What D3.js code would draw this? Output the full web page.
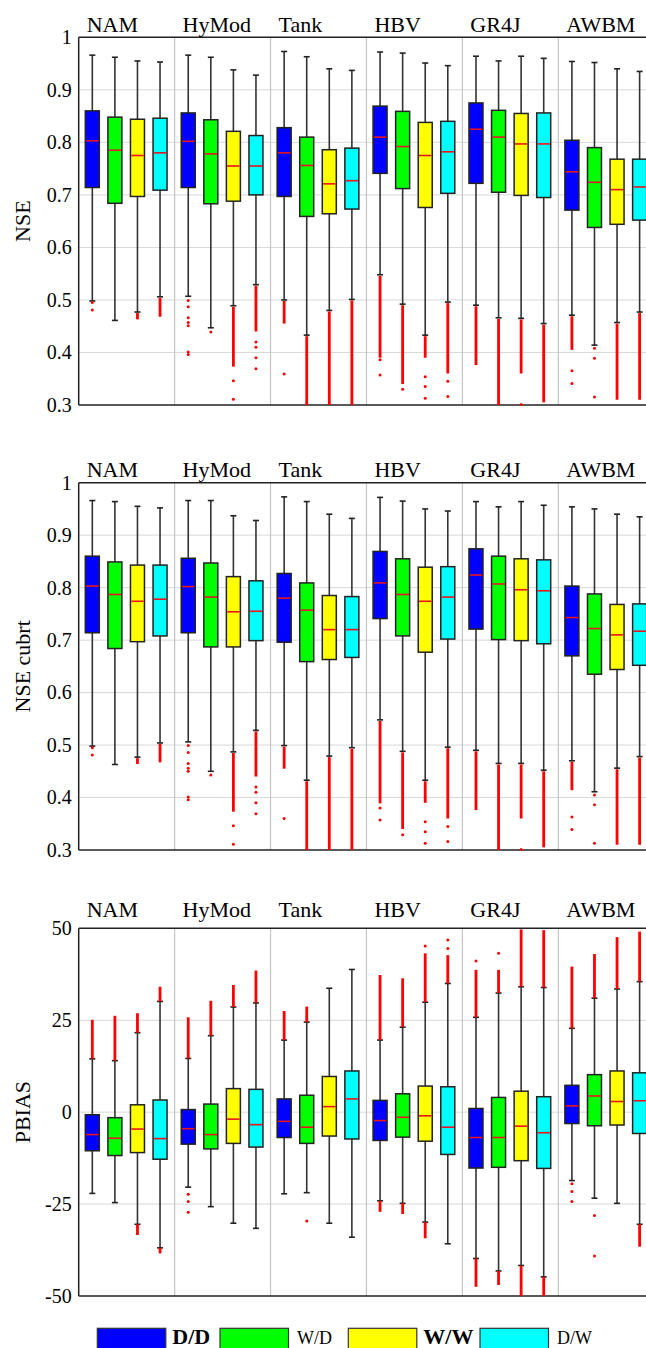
<!DOCTYPE html>
<html>
<head>
<meta charset="utf-8">
<script src="https://cdn.jsdelivr.net/npm/d3@7"></script>
<style>
  body { margin: 0; background: #fff; }
  svg { display: block; font-family: "Liberation Serif", "Times New Roman", serif; }
</style>
</head>
<body>
<svg id="chart" width="646" height="1348"></svg>
<script>
// categories
const groups = ["NAM", "HyMod", "Tank", "HBV", "GR4J", "AWBM"];
const series = ["D/D", "W/D", "W/W", "D/W"];

// NSE -- rows = model, columns = D/D, W/D, W/W, D/W
const nseHi  = [[0.966,0.962,0.955,0.953],[0.966,0.962,0.938,0.928],[0.973,0.963,0.940,0.937],[0.972,0.970,0.951,0.946],[0.964,0.955,0.964,0.960],[0.954,0.952,0.940,0.935]];
const nseQ3  = [[0.860,0.848,0.844,0.846],[0.856,0.843,0.821,0.813],[0.828,0.810,0.786,0.789],[0.869,0.859,0.838,0.840],[0.875,0.861,0.855,0.856],[0.804,0.790,0.768,0.768]];
const nseMed = [[0.803,0.785,0.775,0.780],[0.802,0.778,0.755,0.755],[0.780,0.756,0.721,0.727],[0.810,0.792,0.775,0.782],[0.825,0.810,0.797,0.797],[0.744,0.724,0.710,0.715]];
const nseQ1  = [[0.714,0.684,0.697,0.709],[0.714,0.683,0.688,0.700],[0.697,0.659,0.664,0.673],[0.741,0.712,0.676,0.703],[0.722,0.705,0.699,0.695],[0.671,0.638,0.644,0.652]];
const nseLo  = [[0.498,0.461,0.477,0.506],[0.507,0.447,0.489,0.529],[0.500,0.433,0.480,0.501],[0.548,0.492,0.433,0.496],[0.490,0.466,0.465,0.455],[0.471,0.414,0.457,0.477]];
// dense runs of outliers [model, run, from, to]
const nseRuns = [
  ["NAM","W/W",0.475,0.463],["NAM","D/W",0.504,0.468],
  ["HyMod","W/W",0.487,0.373],["HyMod","D/W",0.527,0.440],
  ["Tank","D/D",0.498,0.455],["Tank","W/D",0.431,0.300],["Tank","W/W",0.478,0.300],["Tank","D/W",0.499,0.300],
  ["HBV","D/D",0.546,0.390],["HBV","W/D",0.490,0.340],["HBV","W/W",0.431,0.390],["HBV","D/W",0.494,0.360],
  ["GR4J","D/D",0.488,0.376],["GR4J","W/D",0.464,0.300],["GR4J","W/W",0.463,0.360],["GR4J","D/W",0.453,0.305],
  ["AWBM","D/D",0.469,0.405],["AWBM","W/W",0.455,0.310],["AWBM","D/W",0.475,0.310]
];
// single outliers
const nsePts = [
  ["NAM","D/D",[0.495,0.481]],
  ["HyMod","D/D",[0.499,0.487,0.466,0.457,0.451,0.401,0.396]],["HyMod","W/D",[0.439]],
  ["HyMod","W/W",[0.346,0.311]],["HyMod","D/W",[0.420,0.410,0.390,0.369]],
  ["Tank","D/D",[0.359]],
  ["HBV","D/D",[0.386,0.357]],["HBV","W/D",[0.330]],["HBV","W/W",[0.354,0.335,0.313]],["HBV","D/W",[0.345,0.316]],
  ["GR4J","W/W",[0.301]],
  ["AWBM","D/D",[0.365,0.341]],["AWBM","W/D",[0.408,0.389,0.315]]
];

// NSE cubrt
const cubHi  = [[0.966,0.964,0.955,0.952],[0.966,0.966,0.937,0.928],[0.973,0.964,0.940,0.932],[0.972,0.965,0.950,0.946],[0.964,0.954,0.964,0.957],[0.954,0.950,0.940,0.935]];
const cubQ3  = [[0.860,0.849,0.843,0.843],[0.856,0.847,0.821,0.813],[0.827,0.809,0.785,0.783],[0.869,0.855,0.839,0.840],[0.874,0.860,0.855,0.853],[0.803,0.788,0.768,0.769]];
const cubMed = [[0.803,0.787,0.774,0.778],[0.802,0.782,0.754,0.755],[0.780,0.757,0.720,0.720],[0.809,0.787,0.774,0.782],[0.824,0.807,0.796,0.794],[0.743,0.722,0.710,0.717]];
const cubQ1  = [[0.714,0.684,0.697,0.708],[0.714,0.687,0.687,0.699],[0.696,0.659,0.663,0.667],[0.741,0.708,0.677,0.702],[0.721,0.701,0.699,0.693],[0.670,0.635,0.644,0.652]];
const cubLo  = [[0.498,0.463,0.477,0.504],[0.506,0.450,0.487,0.528],[0.499,0.433,0.479,0.495],[0.548,0.488,0.433,0.496],[0.490,0.465,0.465,0.452],[0.470,0.411,0.456,0.478]];
const cubRuns = [
  ["NAM","W/W",0.475,0.464],["NAM","D/W",0.502,0.467],
  ["HyMod","W/W",0.485,0.373],["HyMod","D/W",0.526,0.440],
  ["Tank","D/D",0.497,0.455],["Tank","W/D",0.431,0.300],["Tank","W/W",0.477,0.300],["Tank","D/W",0.493,0.300],
  ["HBV","D/D",0.546,0.389],["HBV","W/D",0.486,0.340],["HBV","W/W",0.431,0.390],["HBV","D/W",0.494,0.360],
  ["GR4J","D/D",0.488,0.376],["GR4J","W/D",0.463,0.300],["GR4J","W/W",0.463,0.360],["GR4J","D/W",0.450,0.305],
  ["AWBM","D/D",0.468,0.414],["AWBM","W/W",0.454,0.310],["AWBM","D/W",0.476,0.310]
];
const cubPts = [
  ["NAM","D/D",[0.495,0.481]],
  ["HyMod","D/D",[0.499,0.486,0.465,0.456,0.450,0.401,0.396]],["HyMod","W/D",[0.443]],
  ["HyMod","W/W",[0.346,0.311]],["HyMod","D/W",[0.420,0.410,0.390,0.369]],
  ["Tank","D/D",[0.360]],
  ["HBV","D/D",[0.380,0.357]],["HBV","W/D",[0.329]],["HBV","W/W",[0.354,0.335,0.313]],["HBV","D/W",[0.345,0.316]],
  ["GR4J","W/W",[0.301]],
  ["AWBM","D/D",[0.363,0.339]],["AWBM","W/D",[0.405,0.386,0.313]]
];

// PBIAS
const pbHi  = [[14.5,14.0,21.6,30.1],[14.6,20.8,28.6,29.7],[19.6,24.5,33.7,38.8],[19.6,23.1,29.9,35.0],[25.8,32.4,34.1,33.9],[22.8,31.0,33.5,35.5]];
const pbQ3  = [[-0.7,-1.5,2.0,3.3],[0.7,2.2,6.4,6.2],[3.6,4.6,9.7,11.2],[3.2,5.0,7.1,6.9],[1.0,4.0,5.7,4.2],[7.3,10.2,11.2,10.7]];
const pbMed = [[-6.1,-7.1,-4.6,-7.2],[-4.5,-6.1,-1.9,-3.4],[-2.5,-4.1,1.5,3.6],[-2.3,-1.4,-1.0,-4.1],[-6.9,-6.9,-3.8,-5.6],[1.7,4.4,2.9,3.1]];
const pbQ1  = [[-10.5,-11.8,-11.0,-12.8],[-8.7,-10.0,-8.5,-9.5],[-6.9,-8.5,-6.5,-7.3],[-7.7,-6.8,-7.9,-11.5],[-15.2,-15.0,-13.2,-15.3],[-3.1,-3.7,-3.5,-5.8]];
const pbLo  = [[-22.1,-24.6,-30.5,-36.9],[-20.4,-25.7,-30.2,-31.6],[-22.2,-21.9,-30.2,-34.0],[-24.1,-24.8,-29.9,-35.8],[-39.8,-43.2,-41.7,-44.8],[-18.6,-23.4,-24.8,-30.5]];
const pbRuns = [
  ["NAM","D/D",14.5,25.1],["NAM","W/D",14.0,26.2],["NAM","W/W",21.6,26.9],["NAM","W/W",-30.5,-33.4],
  ["NAM","D/W",30.1,34.1],["NAM","D/W",-36.9,-38.4],
  ["HyMod","D/D",14.6,25.8],["HyMod","W/D",20.8,30.3],["HyMod","W/W",28.6,34.6],["HyMod","D/W",29.7,38.5],
  ["Tank","D/D",19.6,27.5],["Tank","W/D",24.5,28.7],
  ["HBV","D/D",19.6,37.3],["HBV","D/D",-24.1,-27.1],["HBV","W/D",23.1,36.4],["HBV","W/D",-24.8,-27.7],
  ["HBV","W/W",29.9,43.2],["HBV","W/W",-29.9,-34.3],["HBV","D/W",35.0,42.7],
  ["GR4J","D/D",25.8,38.7],["GR4J","D/D",-39.8,-47.5],["GR4J","W/D",32.4,38.7],["GR4J","W/D",-43.2,-47.0],
  ["GR4J","W/W",34.1,49.7],["GR4J","W/W",-41.7,-50],["GR4J","D/W",33.9,49.5],["GR4J","D/W",-44.8,-50],
  ["AWBM","D/D",22.8,39.6],["AWBM","W/D",31.0,43.0],["AWBM","W/W",33.5,47.6],["AWBM","D/W",35.5,49.1],["AWBM","D/W",-30.5,-36.6]
];
const pbPts = [
  ["HyMod","D/D",[-22.3,-24.3,-27.2]],
  ["Tank","W/D",[-29.6]],
  ["HBV","W/W",[45.2]],["HBV","D/W",[44.5,46.8]],
  ["GR4J","D/D",[41.1]],["GR4J","W/D",[43.2]],
  ["AWBM","D/D",[-19.5,-21.6,-24.3]],["AWBM","W/D",[-28.1,-39.1]]
];

// tick values
const nseTicks = [0.3, 0.4, 0.5, 0.6, 0.7, 0.8, 0.9, 1];
const pbTicks = [-50, -25, 0, 25, 50];

// ---------- drawing ----------
const svg = d3.select("#chart");
const FONT = "'Liberation Serif','Times New Roman',serif";

const panels = [
  { name: "NSE", ticks: nseTicks, top: 37.3, bottom: 405, title: 32,
    hi: nseHi, q3: nseQ3, med: nseMed, q1: nseQ1, lo: nseLo, runs: nseRuns, pts: nsePts },
  { name: "NSE cubrt", ticks: nseTicks, top: 482.7, bottom: 850, title: 477.3,
    hi: cubHi, q3: cubQ3, med: cubMed, q1: cubQ1, lo: cubLo, runs: cubRuns, pts: cubPts },
  { name: "PBIAS", ticks: pbTicks, top: 928.3, bottom: 1296, title: 917.3,
    hi: pbHi, q3: pbQ3, med: pbMed, q1: pbQ1, lo: pbLo, runs: pbRuns, pts: pbPts }
];

const x0 = d3.scaleBand().domain(groups).range([78.7, 654.2]);
const bw = x0.bandwidth();
const x1 = d3.scalePoint().domain(series).range([bw * 0.142, bw * 0.848]);
const color = d3.scaleOrdinal().domain(series).range(["#0000ff", "#00ff00", "#ffff00", "#00ffff"]);
const cx = (g, s) => x0(g) + x1(s);
const boxW = 14, capW = 6;
const [xl, xr] = x0.range();

panels.forEach(p => {
  const y = d3.scaleLinear().domain(d3.extent(p.ticks)).range([p.bottom, p.top]);
  const g = svg.append("g");

  // horizontal grid
  g.selectAll(".grid").data(p.ticks.slice(1, -1)).enter().append("line")
    .attr("x1", xl).attr("x2", xr)
    .attr("y1", d => y(d)).attr("y2", d => y(d))
    .attr("stroke", "#d8d8d8").attr("stroke-width", 1);

  // model separators
  g.selectAll(".sep").data(groups.slice(1)).enter().append("line")
    .attr("x1", d => x0(d)).attr("x2", d => x0(d))
    .attr("y1", p.top).attr("y2", p.bottom)
    .attr("stroke", "#c4c4c4").attr("stroke-width", 1.2);

  // frame
  g.append("line").attr("x1", xl).attr("x2", xr).attr("y1", p.top).attr("y2", p.top)
    .attr("stroke", "#222").attr("stroke-width", 1.5);
  g.append("line").attr("x1", xl).attr("x2", xr).attr("y1", p.bottom).attr("y2", p.bottom)
    .attr("stroke", "#222").attr("stroke-width", 1.5);
  g.append("line").attr("x1", xl).attr("x2", xl).attr("y1", p.top).attr("y2", p.bottom)
    .attr("stroke", "#222").attr("stroke-width", 1.5);

  // y axis labels
  g.append("g").attr("transform", `translate(${xl},0)`)
    .call(d3.axisLeft(y).tickValues(p.ticks).tickSize(0).tickPadding(7).tickFormat(d => String(d)))
    .call(a => a.select(".domain").remove())
    .attr("font-family", FONT).attr("font-size", 20)
    .selectAll("text").attr("fill", "#000");

  g.append("text")
    .attr("transform", `translate(30,${(p.top + p.bottom) / 2}) rotate(-90)`)
    .attr("text-anchor", "middle").attr("font-size", 22).attr("font-family", FONT)
    .text(p.name);

  // model titles
  g.selectAll(".title").data(groups).enter().append("text")
    .attr("x", d => x0(d) + 8).attr("y", p.title)
    .attr("font-size", 22).attr("font-family", FONT)
    .text(d => d);

  const stats = groups.flatMap((gn, gi) => series.map((s, si) => ({
    g: gn, s, hi: p.hi[gi][si], q3: p.q3[gi][si], med: p.med[gi][si], q1: p.q1[gi][si], lo: p.lo[gi][si]
  })));

  // whiskers
  const wk = g.selectAll(".wk").data(stats).enter().append("g");
  wk.append("line").attr("x1", d => cx(d.g, d.s)).attr("x2", d => cx(d.g, d.s))
    .attr("y1", d => y(d.hi)).attr("y2", d => y(d.lo))
    .attr("stroke", "#333").attr("stroke-width", 1.6);
  ["hi", "lo"].forEach(k => {
    wk.append("line").attr("x1", d => cx(d.g, d.s) - capW / 2).attr("x2", d => cx(d.g, d.s) + capW / 2)
      .attr("y1", d => y(d[k])).attr("y2", d => y(d[k]))
      .attr("stroke", "#222").attr("stroke-width", 1.6);
  });

  // outliers
  g.selectAll(".run").data(p.runs).enter().append("line")
    .attr("x1", d => cx(d[0], d[1])).attr("x2", d => cx(d[0], d[1]))
    .attr("y1", d => y(d[2])).attr("y2", d => y(d[3]))
    .attr("stroke", "#ff0000").attr("stroke-width", 2.8);
  const pts = p.pts.flatMap(d => d[2].map(v => ({ g: d[0], s: d[1], v })));
  g.selectAll(".pt").data(pts).enter().append("circle")
    .attr("cx", d => cx(d.g, d.s)).attr("cy", d => y(d.v)).attr("r", 1.5)
    .attr("fill", "#ff0000");

  // boxes
  g.selectAll(".box").data(stats).enter().append("rect")
    .attr("x", d => cx(d.g, d.s) - boxW / 2).attr("width", boxW)
    .attr("y", d => y(d.q3)).attr("height", d => y(d.q1) - y(d.q3))
    .attr("fill", d => color(d.s)).attr("stroke", "#222").attr("stroke-width", 1.5);

  g.selectAll(".med").data(stats).enter().append("line")
    .attr("x1", d => cx(d.g, d.s) - boxW / 2 + 0.8).attr("x2", d => cx(d.g, d.s) + boxW / 2 - 0.8)
    .attr("y1", d => y(d.med)).attr("y2", d => y(d.med))
    .attr("stroke", "#e8141e").attr("stroke-width", 1.6);
});

// legend (box left edges as laid out in the original figure)
const legLeft = [97.3, 220, 348.3, 480];
const lg = svg.selectAll(".leg").data(series).enter().append("g")
  .attr("transform", (d, i) => `translate(${legLeft[i]},1328.3)`);
lg.append("rect").attr("width", 68.5).attr("height", 22)
  .attr("fill", d => color(d)).attr("stroke", "#333").attr("stroke-width", 1.2);
lg.append("text").attr("x", (d, i) => i % 2 === 0 ? 75 : 77).attr("y", 15.5)
  .attr("font-family", FONT)
  .attr("font-size", (d, i) => i % 2 === 0 ? 22 : 18)
  .attr("font-weight", (d, i) => i % 2 === 0 ? "bold" : "normal")
  .text(d => d);
</script>
</body>
</html>
